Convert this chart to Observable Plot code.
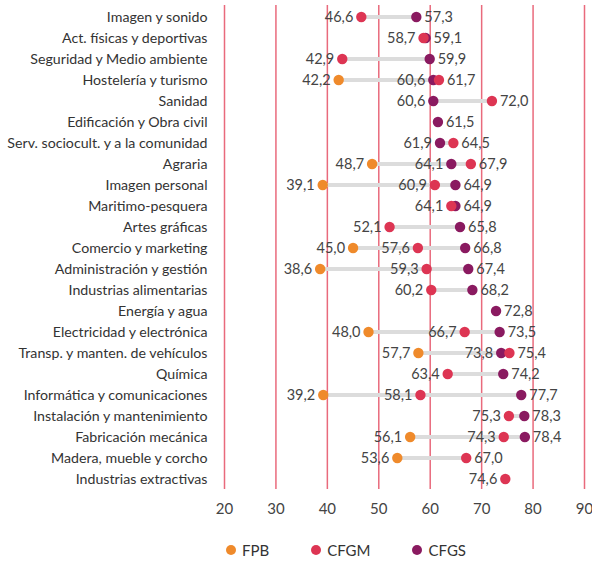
<!DOCTYPE html>
<html>
<head>
<meta charset="utf-8">
<script src="https://cdn.jsdelivr.net/npm/d3@7"></script>
<script src="https://cdn.jsdelivr.net/npm/@observablehq/plot@0.6"></script>
<style>
  html, body { margin: 0; padding: 0; background: #fff; }
  body { width: 592px; font-family: Lato, "Open Sans", sans-serif; }
  #chart svg { display: block; }
  .legend { display: flex; align-items: center; margin-left: 226px; margin-top: 22px; font-size: 15px; color: #333; }
  .legend .item { display: flex; align-items: center; margin-right: 42px; }
  .legend .dot { width: 10px; height: 10px; border-radius: 50%; margin-right: 6px; }
</style>
</head>
<body>
<div id="chart"></div>
<script>
const categories = [
  "Imagen y sonido",
  "Act. físicas y deportivas",
  "Seguridad y Medio ambiente",
  "Hostelería y turismo",
  "Sanidad",
  "Edificación y Obra civil",
  "Serv. sociocult. y a la comunidad",
  "Agraria",
  "Imagen personal",
  "Maritimo-pesquera",
  "Artes gráficas",
  "Comercio y marketing",
  "Administración y gestión",
  "Industrias alimentarias",
  "Energía y agua",
  "Electricidad y electrónica",
  "Transp. y manten. de vehículos",
  "Química",
  "Informática y comunicaciones",
  "Instalación y mantenimiento",
  "Fabricación mecánica",
  "Madera, mueble y corcho",
  "Industrias extractivas"
];
const fpb  = [null, null, null, 42.2, null, null, null, 48.7, 39.1, null, null, 45.0, 38.6, null, null, 48.0, 57.7, null, 39.2, null, 56.1, 53.6, null];
const cfgm = [46.6, 58.7, 42.9, 61.7, 72.0, null, 64.5, 67.9, 60.9, 64.1, 52.1, 57.6, 59.3, 60.2, null, 66.7, 75.4, 63.4, 58.1, 75.3, 74.3, 67.0, 74.6];
const cfgs = [57.3, 59.1, 59.9, 60.6, 60.6, 61.5, 61.9, 64.1, 64.9, 64.9, 65.8, 66.8, 67.4, 68.2, 72.8, 73.5, 73.8, 74.2, 77.7, 78.3, 78.4, null, null];
const seriesNames = ["FPB", "CFGM", "CFGS"];
const seriesColors = ["#ef8a2b", "#dd3553", "#8a1a60"];
const xTicks = [20, 30, 40, 50, 60, 70, 80, 90];

const seriesValues = [fpb, cfgm, cfgs];
const points = [];
categories.forEach((cat, i) => {
  seriesNames.forEach((s, j) => {
    const v = seriesValues[j][i];
    if (v != null) points.push({cat, series: s, value: v});
  });
});
const ranges = categories.map((cat, i) => {
  const vals = seriesValues.map(a => a[i]).filter(v => v != null);
  return {cat, lo: d3.min(vals), hi: d3.max(vals), n: vals.length};
}).filter(r => r.n > 1);

// label on the right for the row maximum (or a lone CFGS value), else left
const rowInfo = new Map(categories.map((cat, i) => {
  const vals = seriesValues.map(a => a[i]).filter(v => v != null);
  return [cat, {max: d3.max(vals), n: vals.length}];
}));
const isRight = d => {
  const r = rowInfo.get(d.cat);
  return d.value === r.max && (r.n > 1 || d.series === "CFGS");
};
const fmt = v => v.toFixed(1).replace(".", ",");

const order = ["FPB", "CFGS", "CFGM"];
const sortedPoints = points.slice().sort((a, b) => order.indexOf(a.series) - order.indexOf(b.series));

const chart = Plot.plot({
  width: 592,
  height: 519,
  marginLeft: 224,
  marginRight: 8,
  marginTop: 5,
  marginBottom: 30,
  style: {fontFamily: "Lato, 'Open Sans', sans-serif", color: "#333"},
  x: {domain: [20, 90]},
  y: {domain: categories, type: "band", padding: 0},
  color: {domain: seriesNames, range: seriesColors},
  marks: [
    Plot.ruleX(xTicks, {stroke: "#e96a7c", strokeWidth: 1.5}),
    Plot.axisX({ticks: xTicks, tickSize: 0, tickPadding: 14, fontSize: 15, label: null, fill: "#444"}),
    Plot.axisY({tickSize: 0, tickPadding: 17, fontSize: 14.2, label: null, fill: "#333"}),
    Plot.link(ranges, {x1: "lo", x2: "hi", y1: "cat", y2: "cat", stroke: "#dcdcdc", strokeWidth: 4}),
    Plot.dot(sortedPoints, {x: "value", y: "cat", fill: "series", r: 5.2}),
    Plot.text(points.filter(d => !isRight(d)), {x: "value", y: "cat", text: d => fmt(d.value), textAnchor: "end", dx: -8, fontSize: 14.5, fill: "#444"}),
    Plot.text(points.filter(d => isRight(d)), {x: "value", y: "cat", text: d => fmt(d.value), textAnchor: "start", dx: 8, fontSize: 14.5, fill: "#444"})
  ]
});
document.getElementById("chart").append(chart);

const legend = document.createElement("div");
legend.className = "legend";
seriesNames.forEach((s, i) => {
  const item = document.createElement("div");
  item.className = "item";
  const dot = document.createElement("span");
  dot.className = "dot";
  dot.style.background = seriesColors[i];
  const label = document.createElement("span");
  label.textContent = s;
  item.append(dot, label);
  legend.append(item);
});
document.body.append(legend);
</script>
</body>
</html>
